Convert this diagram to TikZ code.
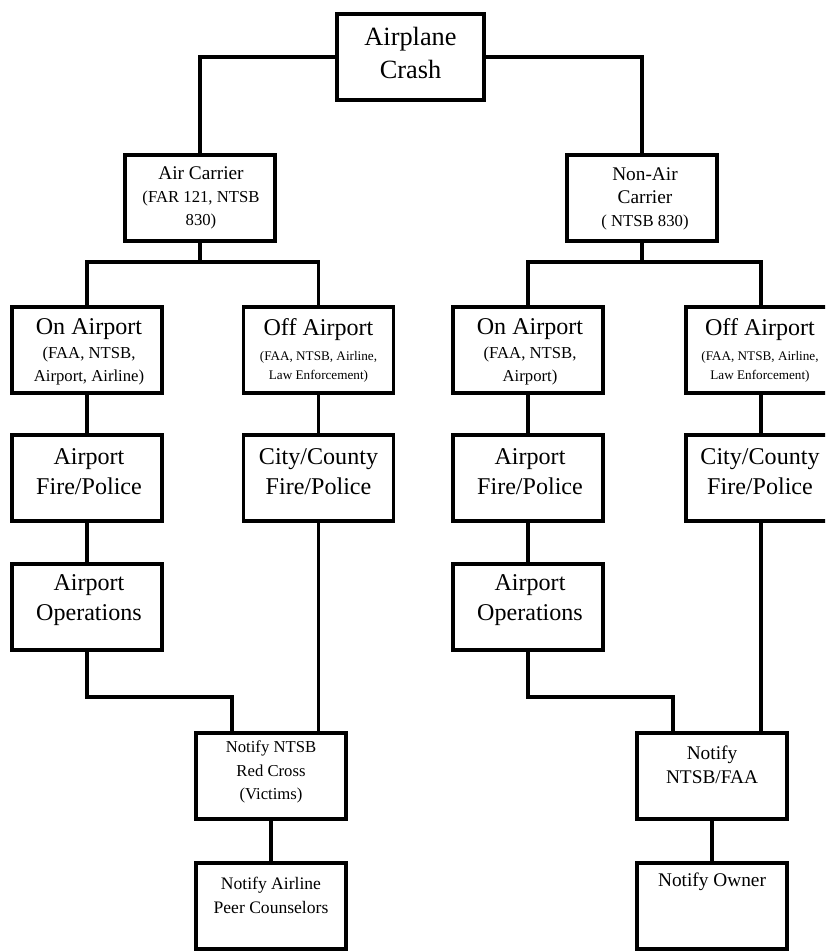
\documentclass[tikz,border=0pt]{standalone}
\usepackage{fontspec}
\setmainfont{Liberation Serif}
\usetikzlibrary{calc}
\tikzset{box/.style={draw, line width=2.2pt, minimum width=3cm, minimum height=1.72cm, inner sep=0pt}}
\tikzset{t/.style={align=center, inner sep=0pt}}
\tikzset{head/.style={font=\fontsize{15}{19}\selectfont}}
\tikzset{big/.style={font=\fontsize{13.7}{17}\selectfont}}
\tikzset{mid/.style={font=\fontsize{11}{13.6}\selectfont}}
\tikzset{nt/.style={font=\fontsize{10}{13.6}\selectfont}}
\tikzset{sm/.style={font=\fontsize{9.5}{13.3}\selectfont}}
\tikzset{xs/.style={font=\fontsize{7.5}{10.5}\selectfont}}
\newcommand{\rowfont}{\fontsize{13.7}{17}\selectfont}
\newcommand{\midfont}{\fontsize{11}{13.6}\selectfont}

\begin{document}
\begin{tikzpicture}[x=0.02cm, y=-0.02cm, line width=2.2pt]
        \useasboundingbox (0,0) rectangle (825,952);
        \clip (0,0) rectangle (825,952);
        % boxes
        \node[box, minimum width=2.94cm] (Crash) at (410.5,57) {};
        \node[box] (Air) at (200,198) {};
        \node[box] (Non) at (642,198) {};
        \node[box] (On1) at (87,350) {};
        \node[box] (Off1) at (318.5,350) {};
        \node[box] (On2) at (528,350) {};
        \node[box] (Off2) at (761,350) {};
        \node[box] (Fire1) at (87,478) {}
          edge (On1);
        \node[box] (City1) at (318.5,478) {}
          edge (Off1);
        \node[box] (Fire2) at (528,478) {}
          edge (On2);
        \node[box] (City2) at (761,478) {}
          edge (Off2);
        \node[box] (Ops1) at (87,607) {}
          edge (Fire1);
        \node[box] (Ops2) at (528,607) {}
          edge (Fire2);
        \node[box] (N1) at (271,776) {};
        \node[box] (N2) at (712,776) {};
        \node[box] (P1) at (271,906) {}
          edge (N1);
        \node[box] (P2) at (712,906) {}
          edge (N2);
        % connectors
        \coordinate (bus1) at (200,262);
        \coordinate (bus2) at (642,262);
        \coordinate (elb1) at (232,697);
        \coordinate (elb2) at (673,697);
        \draw (Crash.west) -| (Air.north);
        \draw (Crash.east) -| (Non.north);
        \draw (Air.south) -- (bus1);
        \draw (On1.north) |- (bus1) -| (Off1.north);
        \draw (Non.south) -- (bus2);
        \draw (On2.north) |- (bus2) -| (Off2.north);
        \draw (Ops1.south) |- (elb1) -- (elb1 |- N1.north);
        \draw (Ops2.south) |- (elb2) -- (elb2 |- N2.north);
        \draw (City1.south) -- (City1.south |- N1.north);
        \draw (City2.south) -- (City2.south |- N2.north);
        % texts
        \begin{scope}[t]
          \node[head] (tCrash) at (410.5,53) {Airplane\\Crash};
          \node[sm] (tAir) at (201,198) {{\midfont Air Carrier}\\(FAR 121, NTSB\\830)};
          \node[sm] (tNon) at (645,199) {{\midfont Non-Air}\\{\midfont Carrier}\\( NTSB 830)};
          \node[sm] (tOn1) at (89,352) {{\rowfont On Airport}\\(FAA, NTSB,\\Airport, Airline)};
          \node[xs] (tOff1) at (318.5,350) {{\rowfont Off Airport}\\[4pt](FAA, NTSB, Airline,\\Law Enforcement)};
          \node[sm] (tOn2) at (530,352) {{\rowfont On Airport}\\(FAA, NTSB,\\Airport)};
          \node[xs] (tOff2) at (760,350) {{\rowfont Off Airport}\\[4pt](FAA, NTSB, Airline,\\Law Enforcement)};
          \node[big] (tFire1) at (89,472) {Airport\\Fire/Police};
          \node[big] (tCity1) at (318.5,472) {City/County\\Fire/Police};
          \node[big] (tFire2) at (530,472) {Airport\\Fire/Police};
          \node[big] (tCity2) at (760,472) {City/County\\Fire/Police};
          \node[big] (tOps1) at (89,600) {Airport\\Operations};
          \node[big] (tOps2) at (530,600) {Airport\\Operations};
          \node[sm] (tN1) at (271,772) {Notify NTSB\\Red Cross\\(Victims)};
          \node[mid] (tN2) at (712,765) {Notify\\NTSB/FAA};
          \node[nt] (tP1) at (271,895) {Notify Airline\\Peer Counselors};
          \node[mid] (tP2) at (712,882) {Notify Owner};
        \end{scope}
\end{tikzpicture}
\end{document}
